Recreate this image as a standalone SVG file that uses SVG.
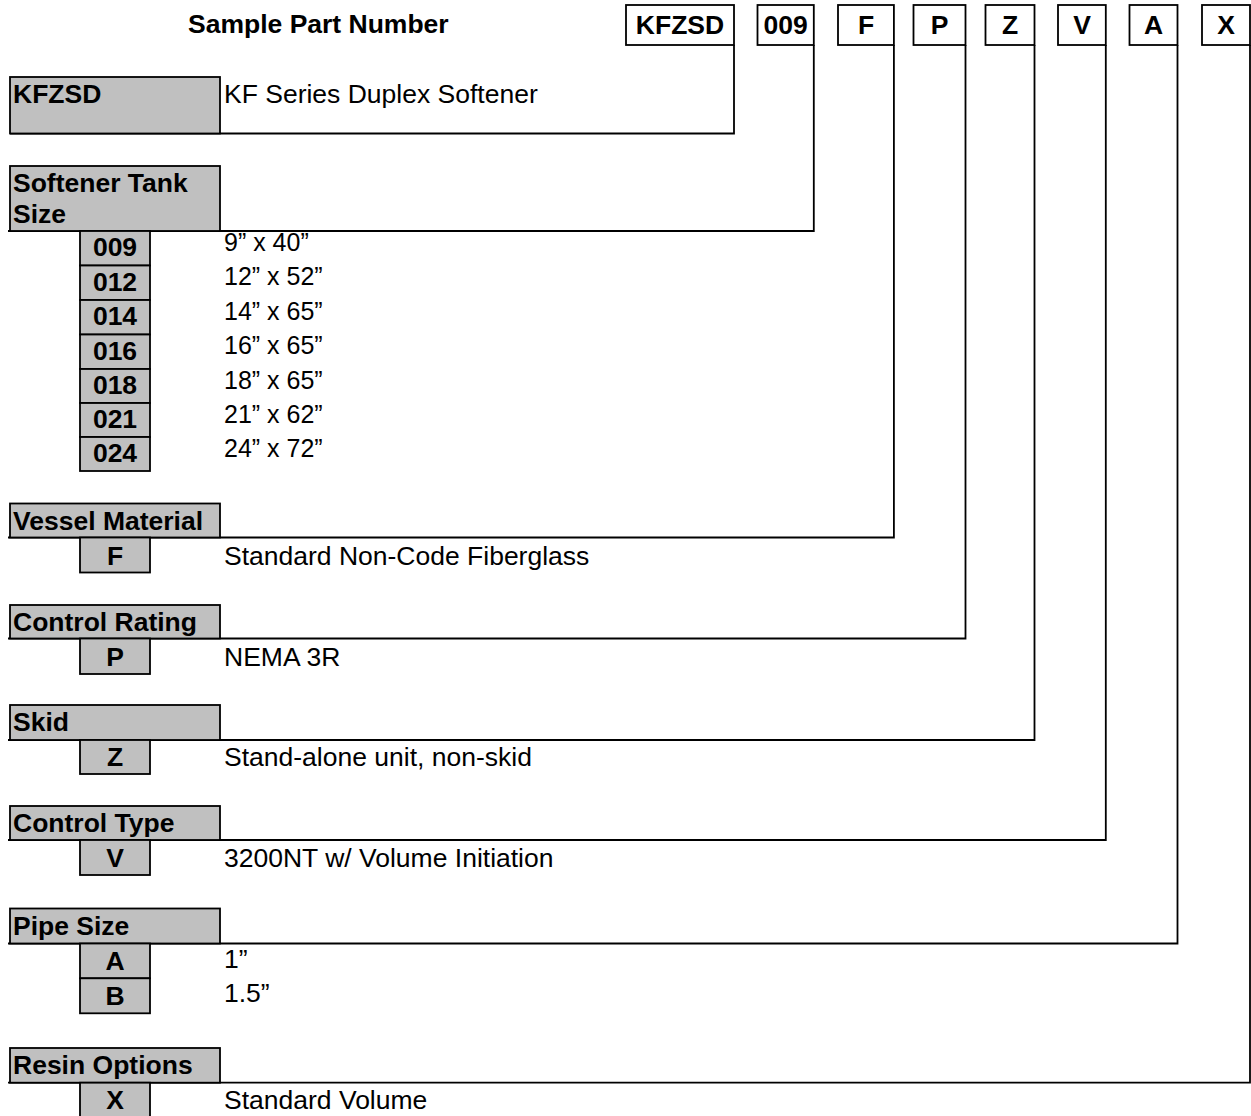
<svg xmlns="http://www.w3.org/2000/svg" width="1251" height="1116" viewBox="0 0 1251 1116">
<style>
.lb{font-family:"Liberation Sans",Arial,sans-serif;font-weight:bold;font-size:26.5px;fill:#000}
.lc{font-family:"Liberation Sans",Arial,sans-serif;font-weight:bold;font-size:26.5px;fill:#000;text-anchor:middle}
.tx{font-family:"Liberation Sans",Arial,sans-serif;font-size:26.5px;fill:#000}
.ts{font-family:"Liberation Sans",Arial,sans-serif;font-size:25px;fill:#000}
.g{fill:#c0c0c0;stroke:#000;stroke-width:1.8}
.h{fill:#fff;stroke:#000;stroke-width:1.8}
.c{fill:none;stroke:#000;stroke-width:1.8}
</style>
<rect width="1251" height="1116" fill="#fff"/>
<text class="lb" x="188" y="33">Sample Part Number</text>
<g id="connectors">
<path class="c" d="M734,45 V133.5 H10"/>
<path class="c" d="M813.8,45 V231 H8"/>
<path class="c" d="M893.9,45 V537.5 H8"/>
<path class="c" d="M965.5,45 V638.5 H8"/>
<path class="c" d="M1034.5,45 V740 H8"/>
<path class="c" d="M1105.8,45 V840 H8"/>
<path class="c" d="M1177.5,45 V943.5 H8"/>
<path class="c" d="M1250,45 V1082.7 H8"/>
</g>
<g id="hdr-kfzsd"><rect class="h" x="626" y="5" width="108" height="40"/><text class="lc" x="680" y="34">KFZSD</text></g>
<g id="hdr-009"><rect class="h" x="757.5" y="5" width="56.3" height="40"/><text class="lc" x="785.6" y="34">009</text></g>
<g id="hdr-f"><rect class="h" x="838" y="5" width="55.9" height="40"/><text class="lc" x="866" y="34">F</text></g>
<g id="hdr-p"><rect class="h" x="913.5" y="5" width="52" height="40"/><text class="lc" x="939.5" y="34">P</text></g>
<g id="hdr-z"><rect class="h" x="985.5" y="5" width="49" height="40"/><text class="lc" x="1010" y="34">Z</text></g>
<g id="hdr-v"><rect class="h" x="1058" y="5" width="47.8" height="40"/><text class="lc" x="1082" y="34">V</text></g>
<g id="hdr-a"><rect class="h" x="1129.5" y="5" width="48" height="40"/><text class="lc" x="1153.5" y="34">A</text></g>
<g id="hdr-x"><rect class="h" x="1202" y="5" width="48" height="40"/><text class="lc" x="1226" y="34">X</text></g>

<g id="sec-kfzsd"><rect class="g" x="10" y="77" width="210" height="56.5"/><text class="lb" x="13" y="103">KFZSD</text><text class="tx" x="224" y="103">KF Series Duplex Softener</text></g>

<g id="sec-size"><rect class="g" x="10" y="166" width="210" height="65"/><text class="lb" x="13" y="192">Softener Tank</text><text class="lb" x="13" y="223">Size</text></g>
<g id="opt-009"><rect class="g" x="80" y="231" width="70" height="34.5"/><text class="lc" x="115" y="256">009</text><text class="ts" x="224" y="250.5">9” x 40”</text></g>
<g id="opt-012"><rect class="g" x="80" y="265.5" width="70" height="34.5"/><text class="lc" x="115" y="290.5">012</text><text class="ts" x="224" y="285">12” x 52”</text></g>
<g id="opt-014"><rect class="g" x="80" y="300" width="70" height="34.5"/><text class="lc" x="115" y="325">014</text><text class="ts" x="224" y="319.5">14” x 65”</text></g>
<g id="opt-016"><rect class="g" x="80" y="334.5" width="70" height="34.5"/><text class="lc" x="115" y="359.5">016</text><text class="ts" x="224" y="354">16” x 65”</text></g>
<g id="opt-018"><rect class="g" x="80" y="369" width="70" height="34"/><text class="lc" x="115" y="394">018</text><text class="ts" x="224" y="388.5">18” x 65”</text></g>
<g id="opt-021"><rect class="g" x="80" y="403" width="70" height="34"/><text class="lc" x="115" y="428">021</text><text class="ts" x="224" y="422.5">21” x 62”</text></g>
<g id="opt-024"><rect class="g" x="80" y="437" width="70" height="34"/><text class="lc" x="115" y="462">024</text><text class="ts" x="224" y="456.5">24” x 72”</text></g>

<g id="sec-vessel"><rect class="g" x="10" y="503.5" width="210" height="34"/><text class="lb" x="13" y="529.5">Vessel Material</text></g>
<g id="opt-f"><rect class="g" x="80" y="537.5" width="70" height="35"/><text class="lc" x="115" y="564.5">F</text><text class="tx" x="224" y="564.5">Standard Non-Code Fiberglass</text></g>

<g id="sec-rating"><rect class="g" x="10" y="605" width="210" height="33.5"/><text class="lb" x="13" y="631">Control Rating</text></g>
<g id="opt-p"><rect class="g" x="80" y="638.5" width="70" height="35.5"/><text class="lc" x="115" y="665.5">P</text><text class="tx" x="224" y="665.5">NEMA 3R</text></g>

<g id="sec-skid"><rect class="g" x="10" y="705" width="210" height="35"/><text class="lb" x="13" y="731">Skid</text></g>
<g id="opt-z"><rect class="g" x="80" y="740" width="70" height="34"/><text class="lc" x="115" y="766">Z</text><text class="tx" x="224" y="766">Stand-alone unit, non-skid</text></g>

<g id="sec-ctype"><rect class="g" x="10" y="806" width="210" height="34"/><text class="lb" x="13" y="832">Control Type</text></g>
<g id="opt-v"><rect class="g" x="80" y="840" width="70" height="35"/><text class="lc" x="115" y="866.5">V</text><text class="tx" x="224" y="866.5">3200NT w/ Volume Initiation</text></g>

<g id="sec-pipe"><rect class="g" x="10" y="908.5" width="210" height="35"/><text class="lb" x="13" y="935">Pipe Size</text></g>
<g id="opt-a"><rect class="g" x="80" y="943.5" width="70" height="34.8"/><text class="lc" x="115" y="970">A</text><text class="tx" x="224" y="968">1”</text></g>
<g id="opt-b"><rect class="g" x="80" y="978.3" width="70" height="35"/><text class="lc" x="115" y="1005">B</text><text class="tx" x="224" y="1002">1.5”</text></g>

<g id="sec-resin"><rect class="g" x="10" y="1048" width="210" height="34.7"/><text class="lb" x="13" y="1074">Resin Options</text></g>
<g id="opt-x"><rect class="g" x="80" y="1082.7" width="70" height="36"/><text class="lc" x="115" y="1109">X</text><text class="tx" x="224" y="1109">Standard Volume</text></g>
</svg>
